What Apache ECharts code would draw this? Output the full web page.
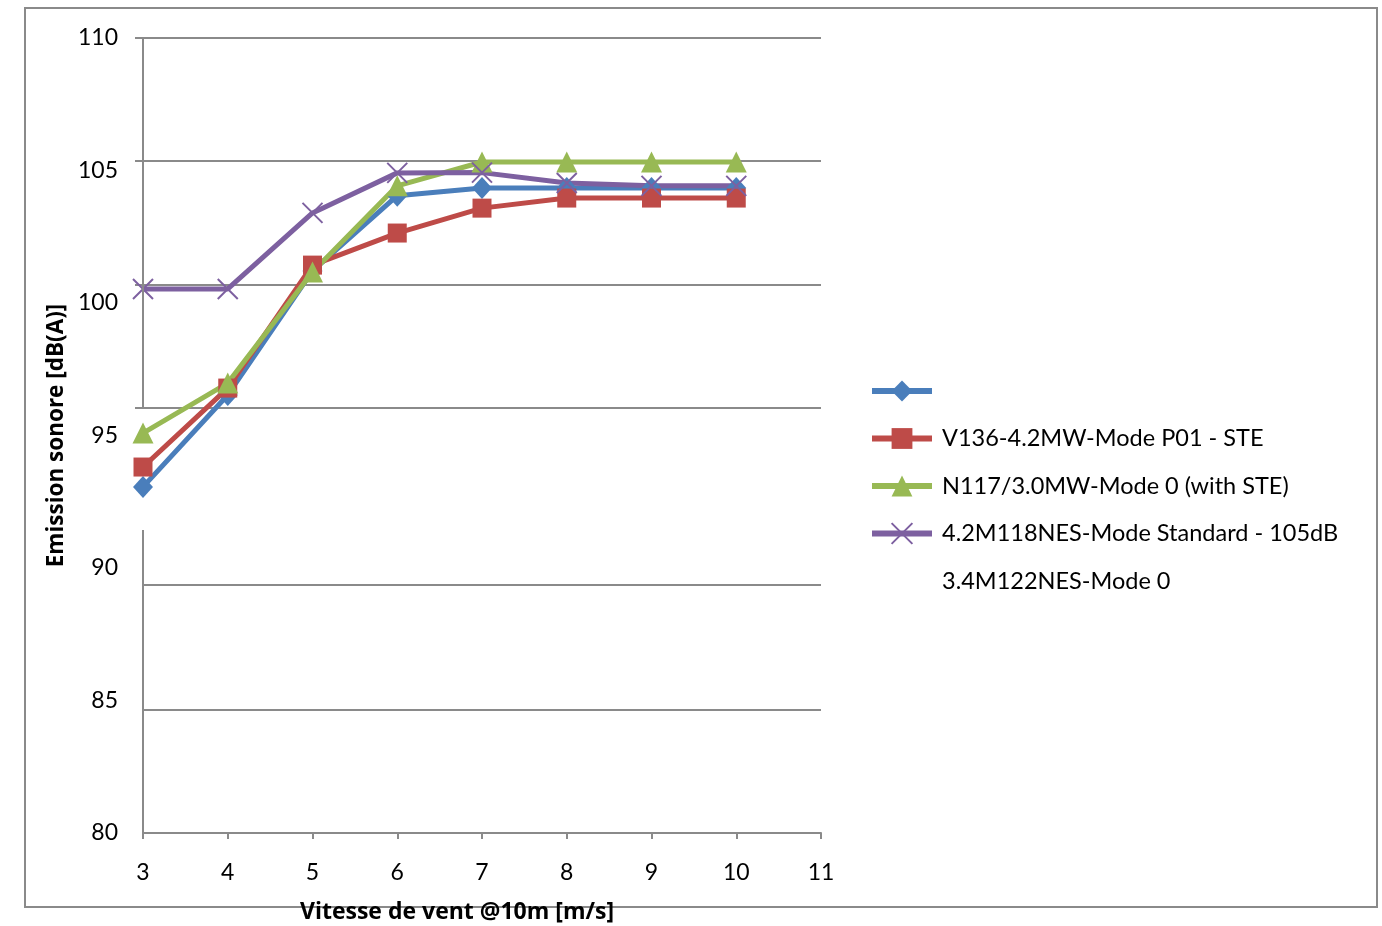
<!DOCTYPE html>
<html>
<head>
<meta charset="utf-8">
<script src="https://cdn.jsdelivr.net/npm/echarts@6/dist/echarts.min.js"></script>
<style>
  html, body { margin: 0; padding: 0; background: #fff; }
  #chart { width: 1382px; height: 926px; }
</style>
</head>
<body>
<div id="chart"></div>
<script>
// wind speed (m/s)
var speeds = [3, 4, 5, 6, 7, 8, 9, 10];

// series names, as the legend shows them (first entry has no text)
var names = [' ', 'V136-4.2MW-Mode P01 - STE', 'N117/3.0MW-Mode 0 (with STE)', '4.2M118NES-Mode Standard - 105dB', '3.4M122NES-Mode 0'];

// sound emission dB(A)
var blueVals = [93.06, 96.53, 101.21, 104.05, 104.34, 104.34, 104.34, 104.34];
var redVals = [93.81, 96.79, 101.43, 102.64, 103.58, 103.96, 103.96, 103.96];
var greenVals = [95.09, 96.98, 101.17, 104.42, 105.32, 105.32, 105.32, 105.32];
var purpleVals = [100.53, 100.53, 103.40, 104.91, 104.92, 104.53, 104.42, 104.42];

// y axis ticks / gridlines
var yLabels = [80, 85, 90, 95, 100, 105, 110];
var yGridUpper = [96.04, 100.68, 105.36, 110];
var yGridLower = [84.64, 89.36];

var gray = '#8a8a8a';
var font = 'Lato, "Open Sans", sans-serif';
var titleFont = '"Open Sans", Lato, sans-serif';

function pairs(vals) {
    var out = [];
    for (var i = 0; i < speeds.length; i++) {
        out.push([speeds[i], vals[i]]);
    }
    return out;
}

function lineSeries(name, vals, color, symbol, size) {
    return {
        name: name,
        type: 'line',
        data: pairs(vals),
        symbol: symbol,
        symbolSize: size,
        lineStyle: { color: color, width: 5 },
        itemStyle: { color: color },
        z: 2
    };
}

var chart = echarts.init(document.getElementById('chart'));

var purple = lineSeries(names[3], purpleVals, '#7D60A0', 'path://M0,0L10,10M10,0L0,10', 20);
purple.itemStyle = { color: 'rgba(0,0,0,0)', borderColor: '#7D60A0', borderWidth: 2 };

var option = {
    animation: false,
    backgroundColor: '#fff',
    textStyle: { fontFamily: font },
    graphic: [{
        type: 'rect',
        z: -10,
        shape: { x: 25, y: 8, width: 1352, height: 899 },
        style: { fill: 'none', stroke: gray, lineWidth: 2 }
    }],
    grid: { left: 143, right: 561, top: 38, bottom: 93, outerBoundsMode: 'none' },
    legend: {
        orient: 'vertical',
        left: 869,
        top: 378,
        padding: 0,
        itemWidth: 60,
        itemHeight: 26,
        itemGap: 21.5,
        data: names,
        selectedMode: false,
        lineStyle: { width: 6 },
        textStyle: { fontFamily: font, fontSize: 23.5, color: '#000', lineHeight: 26, padding: [0, 0, 0, 5] }
    },
    xAxis: {
        type: 'value',
        min: 3,
        max: 11,
        interval: 1,
        name: 'Vitesse de vent @10m [m/s]',
        nameLocation: 'middle',
        nameGap: 68,
        nameTextStyle: { fontFamily: titleFont, fontSize: 23, fontWeight: 'bold', color: '#000', padding: [0, 50, 0, 0] },
        axisLine: { lineStyle: { color: gray, width: 2 } },
        axisTick: { length: 6, lineStyle: { color: gray, width: 2 } },
        axisLabel: { margin: 28, fontSize: 23, color: '#000', fontFamily: font },
        splitLine: { show: false }
    },
    yAxis: [{
        type: 'value',
        min: 80,
        max: 110,
        name: 'Emission sonore [dB(A)]',
        nameLocation: 'middle',
        nameGap: 75,
        nameTextStyle: { fontFamily: titleFont, fontSize: 22.5, fontWeight: 'bold', color: '#000' },
        axisLine: { show: false },
        axisTick: { show: true, length: 8, customValues: yGridUpper, lineStyle: { color: gray, width: 2 } },
        axisLabel: { customValues: yLabels, margin: 25, fontSize: 23, color: '#000', fontFamily: font },
        splitLine: { show: true, lineStyle: { color: gray, width: 2 } }
    }, {
        type: 'value',
        min: 80,
        max: 110,
        position: 'left',
        axisLine: { show: false },
        axisTick: { show: false, customValues: yGridLower },
        axisLabel: { show: false },
        splitLine: { show: true, lineStyle: { color: gray, width: 2 } }
    }],
    series: [
        lineSeries(names[0], blueVals, '#4A7EBB', 'diamond', [20, 22]),
        lineSeries(names[1], redVals, '#BE4B48', 'rect', 19),
        lineSeries(names[2], greenVals, '#98B954', 'triangle', 21),
        purple,
        {
            name: names[4],
            type: 'line',
            data: [],
            symbol: 'none',
            lineStyle: { color: 'rgba(0,0,0,0)' },
            itemStyle: { color: 'rgba(0,0,0,0)' }
        },
        {
            // y axis line, broken like in the original picture
            name: 'axis',
            type: 'line',
            data: [],
            z: 1,
            markLine: {
                silent: true,
                symbol: ['none', 'none'],
                label: { show: false },
                lineStyle: { color: gray, width: 2, type: 'solid' },
                data: [
                    [{ coord: [3, 110] }, { coord: [3, 96.04] }],
                    [{ coord: [3, 91.43] }, { coord: [3, 80] }]
                ]
            }
        }
    ]
};
chart.setOption(option);
</script>
</body>
</html>
